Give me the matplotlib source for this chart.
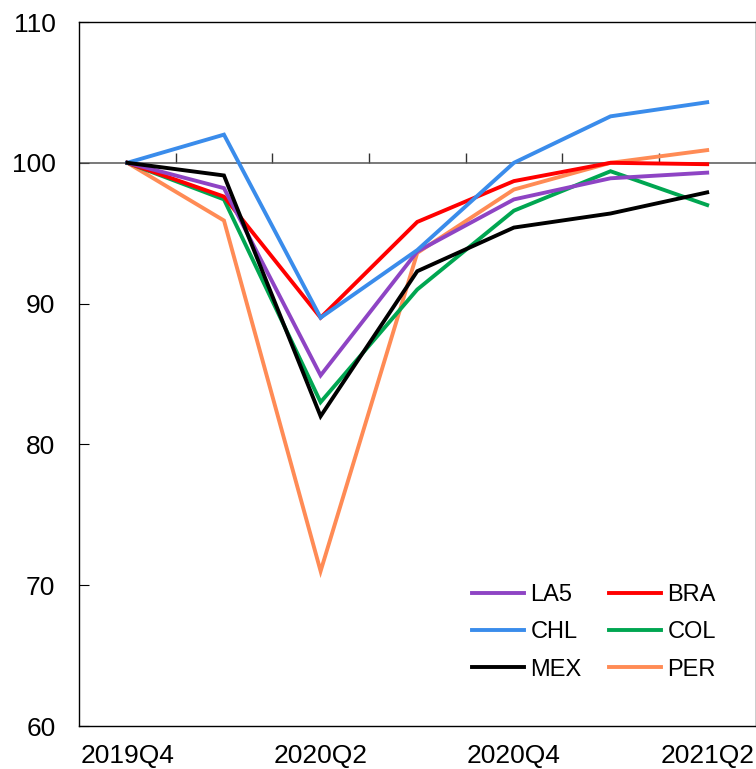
import numpy as np
import matplotlib
matplotlib.use("Agg")
import matplotlib.pyplot as plt

plt.rcParams['font.family'] = ['Liberation Sans', 'DejaVu Sans']

# quarterly index, 2019Q4 = 100
quarters = ["2019Q4", "2020Q1", "2020Q2", "2020Q3", "2020Q4", "2021Q1", "2021Q2"]
tick_labels = ["2019Q4", "", "2020Q2", "", "2020Q4", "", "2021Q2"]

la5 = [100, 98.2, 84.9, 93.7, 97.4, 98.9, 99.3]
bra = [100, 97.6, 89.0, 95.8, 98.7, 100.0, 99.9]
chl = [100, 102.0, 89.0, 93.8, 100.0, 103.3, 104.3]
col = [100, 97.4, 83.0, 91.0, 96.6, 99.4, 97.0]
mex = [100, 99.1, 82.0, 92.3, 95.4, 96.4, 97.9]
per = [100, 95.9, 71.0, 93.6, 98.1, 100.0, 100.9]

series = [
    ("LA5", la5, "#8E44C4"),
    ("CHL", chl, "#3A8CEB"),
    ("MEX", mex, "#000000"),
    ("BRA", bra, "#FF0000"),
    ("COL", col, "#00A651"),
    ("PER", per, "#FF8B55"),
]

fig = plt.figure(figsize=(7.56, 7.69), dpi=100)
ax = fig.add_axes([79 / 756, 43 / 769, 676.5 / 756, 704 / 769])

x = np.arange(len(quarters))
# draw order: orange first so the darker lines sit on top
for name in ["PER", "COL", "BRA", "LA5", "CHL", "MEX"]:
    for lab, vals, c in series:
        if lab == name:
            ax.plot(x, vals, color=c, lw=2.8, solid_joinstyle="miter", label=lab, zorder=3)

ax.axhline(100, color="#555555", lw=1.1, zorder=2)

ax.set_xlim(-0.5, 6.5)
ax.set_ylim(60, 110)
ax.set_yticks(np.arange(60, 111, 10))
ax.set_xticks(x)
ax.set_xticklabels(tick_labels)
ax.tick_params(axis="x", length=0, pad=13, labelsize=19)
ax.tick_params(axis="y", direction="in", length=7, pad=17, labelsize=19)

for s in ax.spines.values():
    s.set_linewidth(1.0)
    s.set_color("black")

# category boundary ticks sitting on the 100 line
sec = ax.secondary_xaxis((100 - 60) / 50)
sec.set_xticks(np.arange(0.5, 6, 1))
sec.tick_params(direction="out", length=7, width=1, labeltop=False, labelbottom=False, color="#333333")
sec.spines["top"].set_visible(False)
sec.spines["bottom"].set_visible(False)

handles, labels = ax.get_legend_handles_labels()
order = ["LA5", "CHL", "MEX", "BRA", "COL", "PER"]
hmap = dict(zip(labels, handles))
ax.legend([hmap[k] for k in order], order, ncol=2, frameon=False,
          loc="upper left", bbox_to_anchor=(472 / 756, 1 - 584 / 769),
          bbox_transform=fig.transFigure, fontsize=17, handlelength=2.2,
          handletextpad=0.28, columnspacing=1.15, labelspacing=0.65,
          borderpad=0, borderaxespad=0)

fig.savefig("out.png", dpi=100)
